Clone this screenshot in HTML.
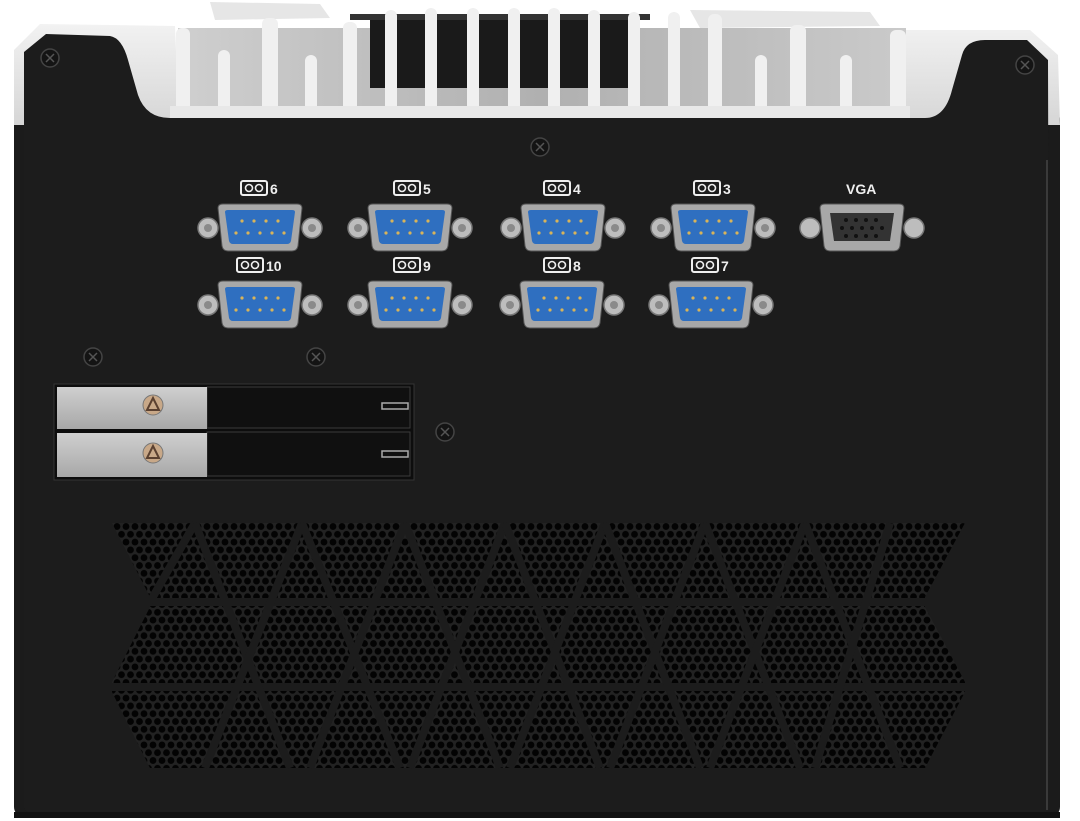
<!DOCTYPE html>
<html><head><meta charset="utf-8"><style>
html,body{margin:0;padding:0;background:#fff;}
svg{display:block;}
text{font-family:"Liberation Sans",sans-serif;font-weight:bold;fill:#eee;}
</style></head><body>
<svg width="1080" height="821" viewBox="0 0 1080 821" xmlns="http://www.w3.org/2000/svg">
<defs>
<pattern id="holes" x="0" y="0" width="9" height="15.6" patternUnits="userSpaceOnUse">
<rect width="9" height="15.6" fill="#222"/>
<circle cx="4.5" cy="3.9" r="3.4" fill="#030303"/>
<circle cx="0" cy="11.7" r="3.4" fill="#030303"/>
<circle cx="9" cy="11.7" r="3.4" fill="#030303"/>
</pattern>
<linearGradient id="silv" x1="0" y1="0" x2="0" y2="1"><stop offset="0" stop-color="#f2f2f2"/><stop offset="1" stop-color="#d6d6d6"/></linearGradient>
<linearGradient id="slot" x1="0" y1="0" x2="1" y2="0"><stop offset="0" stop-color="#cfcfcf"/><stop offset="0.5" stop-color="#b0b0b0"/><stop offset="1" stop-color="#cacaca"/></linearGradient>
<linearGradient id="tray" x1="0" y1="0" x2="0" y2="1"><stop offset="0" stop-color="#cfcfcf"/><stop offset="1" stop-color="#a8a8a8"/></linearGradient>
<g id="db9">
<circle cx="-52" cy="0" r="10" fill="#bdbdbd" stroke="#777" stroke-width="1.5"/>
<circle cx="-52" cy="0" r="4" fill="#8a8a8a"/>
<circle cx="52" cy="0" r="10" fill="#bdbdbd" stroke="#777" stroke-width="1.5"/>
<circle cx="52" cy="0" r="4" fill="#8a8a8a"/>
<path d="M-42,-20 Q-42,-24 -37,-24 L37,-24 Q42,-24 42,-20 L38,18 Q37,23 32,23 L-32,23 Q-37,23 -38,18 Z" fill="#a8a8a8" stroke="#555" stroke-width="1"/>
<path d="M-35,-16 Q-35,-18 -32,-18 L32,-18 Q35,-18 35,-16 L31,13 Q30,16 27,16 L-27,16 Q-30,16 -31,13 Z" fill="#2f6fc0"/>
<g fill="#d8b45a"><circle cx="-18" cy="-7" r="1.6"/><circle cx="-6" cy="-7" r="1.6"/><circle cx="6" cy="-7" r="1.6"/><circle cx="18" cy="-7" r="1.6"/>
<circle cx="-24" cy="5" r="1.6"/><circle cx="-12" cy="5" r="1.6"/><circle cx="0" cy="5" r="1.6"/><circle cx="12" cy="5" r="1.6"/><circle cx="24" cy="5" r="1.6"/></g>
</g>
<g id="lbl"><rect x="-16" y="-7" width="26" height="14" rx="2" fill="none" stroke="#eee" stroke-width="2"/><circle cx="-8" cy="0" r="3.5" fill="none" stroke="#eee" stroke-width="1.6"/><circle cx="2" cy="0" r="3.5" fill="none" stroke="#eee" stroke-width="1.6"/></g>
<g id="screw"><circle r="9" fill="#141414" stroke="#444" stroke-width="1.5"/><path d="M-4,-4 L4,4 M-4,4 L4,-4" stroke="#555" stroke-width="1.5"/></g>
</defs>

<rect x="14" y="110" width="1046" height="707" rx="10" fill="#1b1b1b"/>
<path d="M14,50 L40,24 L175,26 L178,100 L905,100 L905,30 L1030,30 L1058,55 L1060,125 L14,125 Z" fill="url(#silv)"/>
<rect x="178" y="28" width="728" height="88" fill="url(#slot)"/>
<rect x="370" y="18" width="260" height="70" fill="#1a1a1a"/>
<rect x="350" y="14" width="300" height="6" fill="#333"/>
<path d="M210,2 L320,4 L330,18 L215,20 Z M690,10 L870,12 L880,26 L700,28 Z" fill="#e6e6e6"/>
<g fill="#f0f0f0">
<rect x="176" y="28" width="14" height="90" rx="6"/>
<rect x="218" y="50" width="12" height="68" rx="6"/>
<rect x="262" y="18" width="16" height="100" rx="6"/>
<rect x="305" y="55" width="12" height="63" rx="6"/>
<rect x="343" y="22" width="14" height="96" rx="6"/>
<rect x="385" y="10" width="12" height="108" rx="6"/>
<rect x="425" y="8" width="12" height="110" rx="6"/>
<rect x="467" y="8" width="12" height="110" rx="6"/>
<rect x="508" y="8" width="12" height="110" rx="6"/>
<rect x="548" y="8" width="12" height="110" rx="6"/>
<rect x="588" y="10" width="12" height="108" rx="6"/>
<rect x="628" y="12" width="12" height="106" rx="6"/>
<rect x="668" y="12" width="12" height="106" rx="6"/>
<rect x="708" y="14" width="14" height="104" rx="6"/>
<rect x="755" y="55" width="12" height="63" rx="6"/>
<rect x="790" y="25" width="16" height="93" rx="6"/>
<rect x="840" y="55" width="12" height="63" rx="6"/>
<rect x="890" y="30" width="16" height="88" rx="6"/>
</g>
<rect x="170" y="106" width="740" height="12" fill="#e8e8e8"/>
<path d="M24,52 L46,34 L110,36 Q122,38 128,60 L138,95 Q146,118 170,118 L925,118 Q945,118 952,90 L962,55 Q966,40 985,40 L1027,40 L1048,60 L1050,805 Q1050,812 1043,812 L30,812 Q24,812 24,805 Z" fill="#1c1c1c"/>
<line x1="1047" y1="160" x2="1047" y2="810" stroke="#3a3a3a" stroke-width="2"/>
<rect x="14" y="812" width="1046" height="6" fill="#111"/>

<use href="#screw" x="50" y="58"/>
<use href="#screw" x="1025" y="65"/>
<use href="#screw" x="540" y="147"/>
<use href="#screw" x="93" y="357"/>
<use href="#screw" x="316" y="357"/>
<use href="#screw" x="445" y="432"/>

<use href="#lbl" x="257" y="188"/><text x="270" y="194" font-size="14">6</text>
<use href="#lbl" x="410" y="188"/><text x="423" y="194" font-size="14">5</text>
<use href="#lbl" x="560" y="188"/><text x="573" y="194" font-size="14">4</text>
<use href="#lbl" x="710" y="188"/><text x="723" y="194" font-size="14">3</text>
<text x="846" y="194" font-size="14">VGA</text>
<use href="#lbl" x="253" y="265"/><text x="266" y="271" font-size="14">10</text>
<use href="#lbl" x="410" y="265"/><text x="423" y="271" font-size="14">9</text>
<use href="#lbl" x="560" y="265"/><text x="573" y="271" font-size="14">8</text>
<use href="#lbl" x="708" y="265"/><text x="721" y="271" font-size="14">7</text>

<use href="#db9" x="260" y="228"/>
<use href="#db9" x="410" y="228"/>
<use href="#db9" x="563" y="228"/>
<use href="#db9" x="713" y="228"/>
<use href="#db9" x="260" y="305"/>
<use href="#db9" x="410" y="305"/>
<use href="#db9" x="562" y="305"/>
<use href="#db9" x="711" y="305"/>
<g transform="translate(862,228)">
<circle cx="-52" cy="0" r="10" fill="#bdbdbd" stroke="#777" stroke-width="1.5"/>
<circle cx="52" cy="0" r="10" fill="#bdbdbd" stroke="#777" stroke-width="1.5"/>
<path d="M-42,-20 Q-42,-24 -37,-24 L37,-24 Q42,-24 42,-20 L38,18 Q37,23 32,23 L-32,23 Q-37,23 -38,18 Z" fill="#a8a8a8" stroke="#555"/>
<path d="M-32,-15 L32,-15 L28,13 L-28,13 Z" fill="#333"/>
<g fill="#111"><circle cx="-16" cy="-8" r="2"/><circle cx="-6" cy="-8" r="2"/><circle cx="4" cy="-8" r="2"/><circle cx="14" cy="-8" r="2"/><circle cx="-20" cy="0" r="2"/><circle cx="-10" cy="0" r="2"/><circle cx="0" cy="0" r="2"/><circle cx="10" cy="0" r="2"/><circle cx="20" cy="0" r="2"/><circle cx="-16" cy="8" r="2"/><circle cx="-6" cy="8" r="2"/><circle cx="4" cy="8" r="2"/><circle cx="14" cy="8" r="2"/></g>
</g>

<rect x="54" y="384" width="360" height="96" fill="#0d0d0d" stroke="#333"/>
<rect x="207" y="387" width="203" height="41" fill="#101010" stroke="#3a3a3a"/>
<rect x="207" y="432" width="203" height="44" fill="#101010" stroke="#3a3a3a"/>
<rect x="382" y="403" width="26" height="6" fill="none" stroke="#aaa" stroke-width="1.5"/>
<rect x="382" y="451" width="26" height="6" fill="none" stroke="#aaa" stroke-width="1.5"/>
<rect x="57" y="387" width="150" height="42" fill="url(#tray)"/>
<rect x="57" y="433" width="150" height="44" fill="url(#tray)"/>
<circle cx="153" cy="405" r="10" fill="#c8a888" stroke="#777"/><path d="M153,398 L159,410 L147,410 Z" fill="none" stroke="#5a4030" stroke-width="2"/>
<circle cx="153" cy="453" r="10" fill="#c8a888" stroke="#777"/><path d="M153,446 L159,458 L147,458 Z" fill="none" stroke="#5a4030" stroke-width="2"/>

<path d="M112,523 L965,523 L925,597 L925,607 L965,682 L965,692 L925,768 L150,768 L112,692 L112,682 L150,607 L150,597 Z" fill="url(#holes)"/>
<g stroke="#1c1c1c" stroke-width="8">
<line x1="100" y1="602" x2="980" y2="602"/>
<line x1="100" y1="687" x2="980" y2="687"/>
<line x1="195" y1="523" x2="150" y2="602"/>
<line x1="195" y1="523" x2="290" y2="768"/>
<line x1="302" y1="523" x2="205" y2="768"/>
<line x1="302" y1="523" x2="400" y2="768"/>
<line x1="405" y1="523" x2="310" y2="768"/>
<line x1="405" y1="523" x2="500" y2="768"/>
<line x1="505" y1="523" x2="410" y2="768"/>
<line x1="505" y1="523" x2="600" y2="768"/>
<line x1="605" y1="523" x2="510" y2="768"/>
<line x1="605" y1="523" x2="700" y2="768"/>
<line x1="705" y1="523" x2="610" y2="768"/>
<line x1="705" y1="523" x2="800" y2="768"/>
<line x1="805" y1="523" x2="710" y2="768"/>
<line x1="805" y1="523" x2="900" y2="768"/>
<line x1="890" y1="523" x2="815" y2="768"/>
</g>
</svg>
</body></html>
